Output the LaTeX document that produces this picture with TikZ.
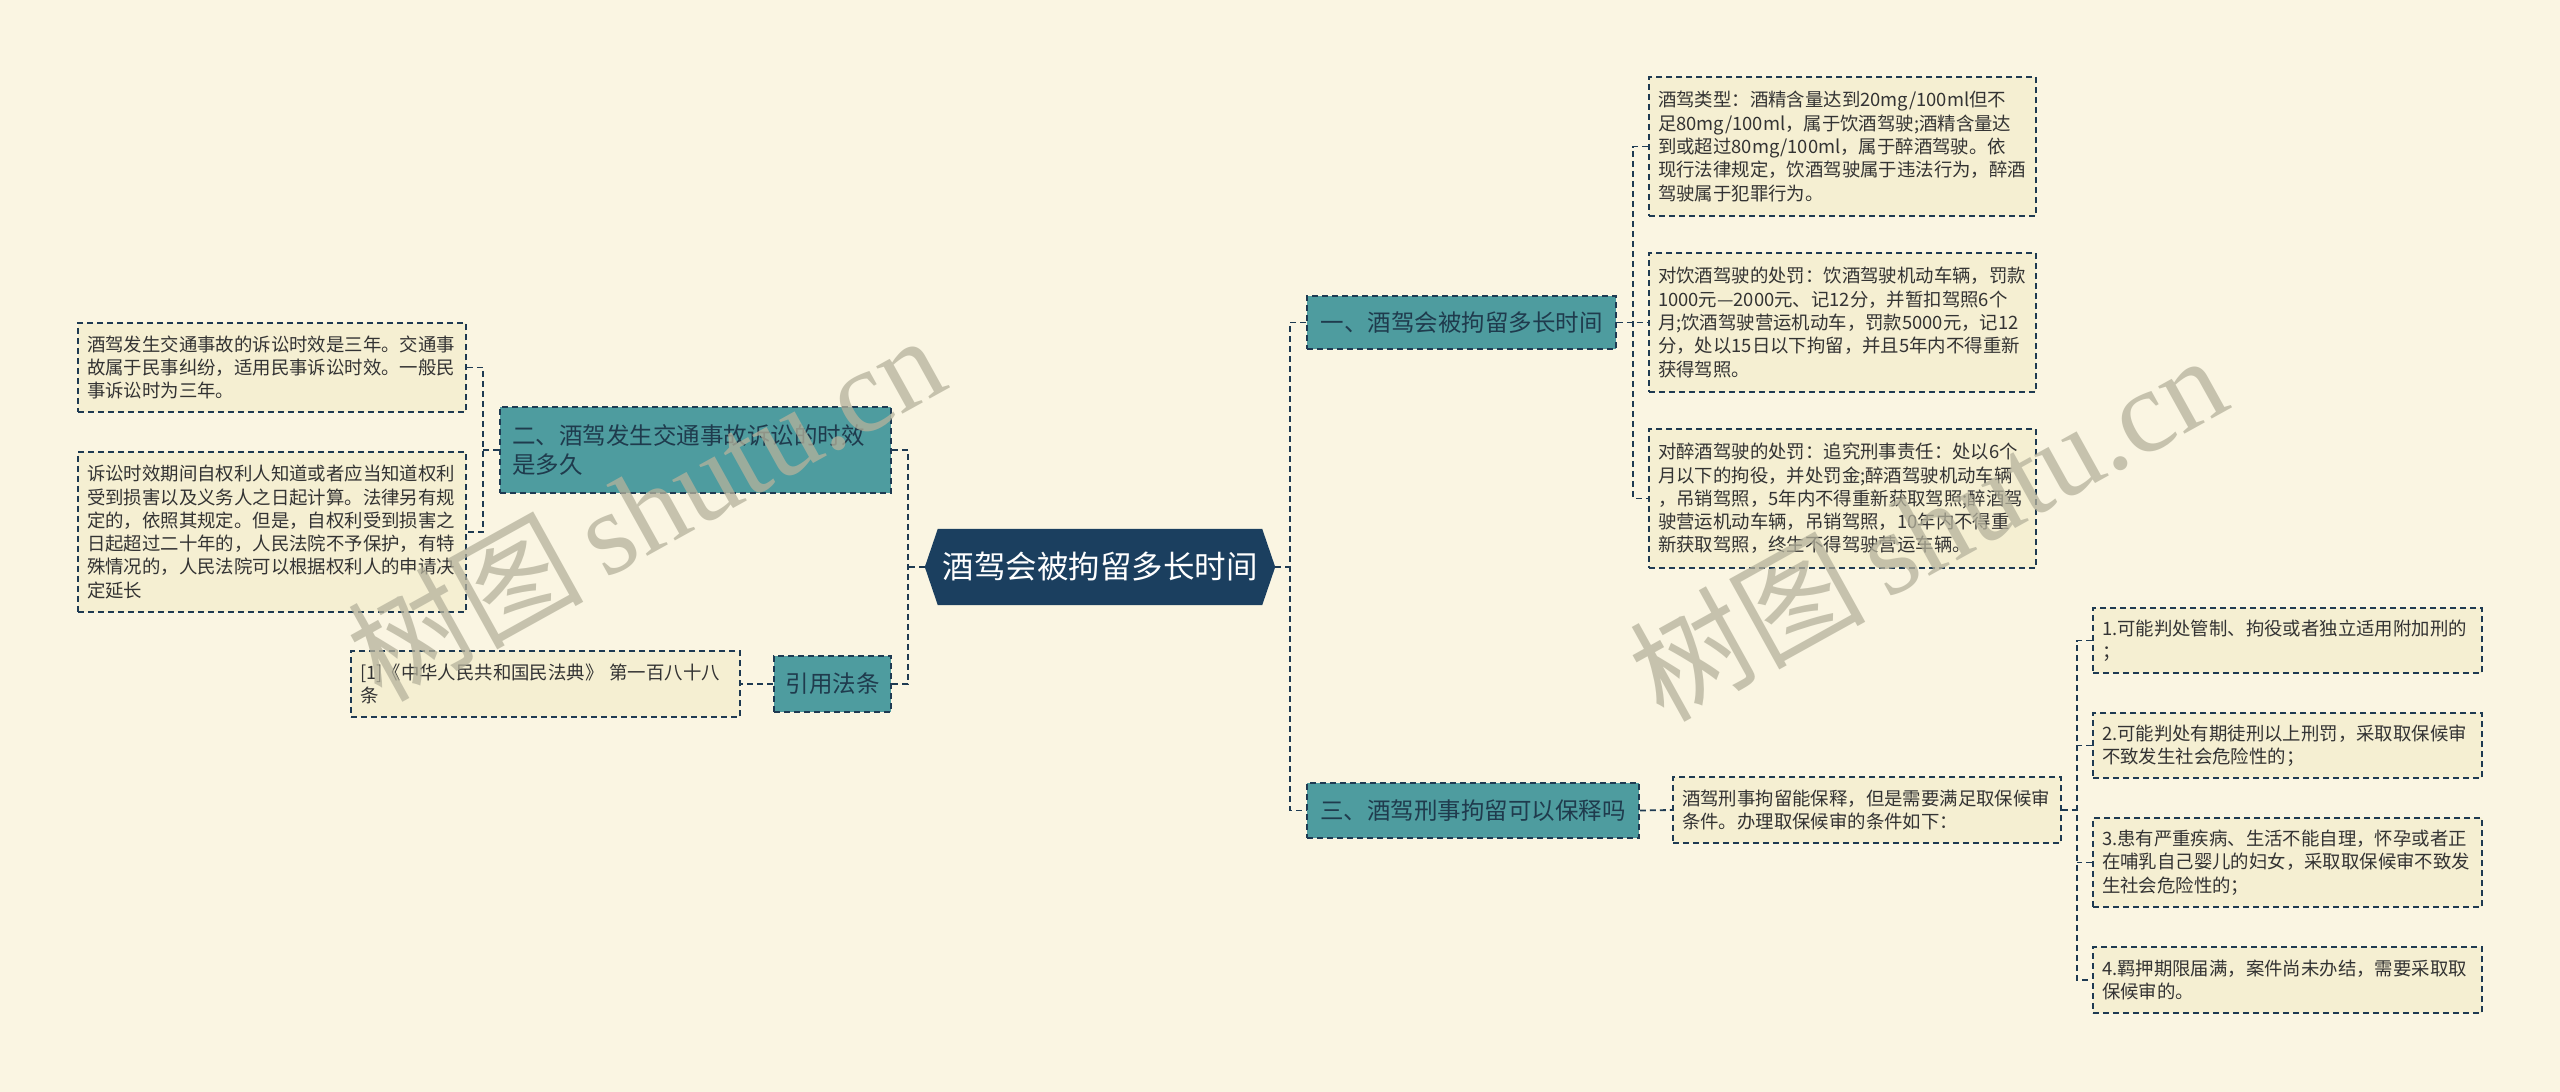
\documentclass[tikz,border=0pt]{standalone}
\usepackage{fontspec}
\setmainfont{Noto Sans CJK SC}
\newfontfamily\wmlatin{Liberation Serif}
\newfontfamily\wmcjk{Noto Sans CJK SC}
\usetikzlibrary{calc}
\definecolor{bgc}{HTML}{FAF5E2}
\definecolor{leaff}{HTML}{F5EFD2}
\definecolor{tealf}{HTML}{4E9C9F}
\definecolor{linec}{HTML}{1E3A52}
\definecolor{rootf}{HTML}{1B3F5F}
\definecolor{txt}{HTML}{333333}
\definecolor{ttxt}{HTML}{1F3B4D}
\definecolor{wmc}{HTML}{B5B29C}
\begin{document}
\begin{tikzpicture}[x=1pt,y=-1pt,
  conn/.style={draw=linec, line width=1.8pt, dash pattern=on 6pt off 4pt},
  leaf/.style={draw=linec, line width=1.8pt, dash pattern=on 6pt off 4pt, fill=leaff,
    inner xsep=9pt, inner ysep=0pt, align=left, text=txt,
    font=\fontsize{18.4pt}{23.3pt}\selectfont},
  lvl/.style={draw=linec, line width=1.8pt, dash pattern=on 6pt off 4pt, fill=tealf,
    inner xsep=12pt, inner ysep=0pt, align=left, text=ttxt,
    font=\fontsize{23.5pt}{29pt}\selectfont},
  wm/.style={text=wmc, text opacity=0.75, rotate=29, inner sep=0pt}
]
\useasboundingbox (0,0) rectangle (2560,1092);
\fill[bgc] (0,0) rectangle (2560,1092);

% trunk / bracket coordinates
\coordinate (tL) at (908,0);
\coordinate (tR) at (1290,0);
\coordinate (bA) at (1633,0);
\coordinate (bL) at (483,0);
\coordinate (bR) at (2077,0);

% root
\node[minimum width=350pt, minimum height=76pt, inner sep=0pt] (root) at (1100,567) {};
\fill[rootf] (root.west) -- ($(root.north west)+(13,0)$) -- ($(root.north east)+(-13,0)$)
  -- (root.east) -- ($(root.south east)+(-13,0)$) -- ($(root.south west)+(13,0)$) -- cycle;
\node[text=white, font=\fontsize{31.5pt}{36pt}\selectfont, inner sep=0pt] (roottext) at (root.center) {酒驾会被拘留多长时间};

% level 1
\node[lvl, minimum width=309pt, minimum height=53pt] (n1) at (1461.5,322.5) {一、酒驾会被拘留多长时间};
\node[lvl, text width=367pt, minimum height=86pt] (n2) at (695.5,450) {二、酒驾发生交通事故诉讼的时效\\是多久};
\node[lvl, minimum width=332pt, minimum height=55pt] (n3) at (1473,810.5) {三、酒驾刑事拘留可以保释吗};
\node[lvl, inner xsep=0pt, minimum width=117pt, minimum height=56pt, align=center] (n4) at (832.5,684) {引用法条};

% right leaves of n1
\node[leaf, text width=369pt, minimum height=139pt] (lA) at (1842.5,146.5) {酒驾类型：酒精含量达到20mg/100ml但不\\足80mg/100ml，属于饮酒驾驶;酒精含量达\\到或超过80mg/100ml，属于醉酒驾驶。依\\现行法律规定，饮酒驾驶属于违法行为，醉酒\\驾驶属于犯罪行为。};
\node[leaf, text width=369pt, minimum height=139pt] (lB) at (1842.5,322.5) {对饮酒驾驶的处罚：饮酒驾驶机动车辆，罚款\\1000元—2000元、记12分，并暂扣驾照6个\\月;饮酒驾驶营运机动车，罚款5000元，记12\\分，处以15日以下拘留，并且5年内不得重新\\获得驾照。};
\node[leaf, text width=369pt, minimum height=139pt] (lC) at (1842.5,498.5) {对醉酒驾驶的处罚：追究刑事责任：处以6个\\月以下的拘役，并处罚金;醉酒驾驶机动车辆\\，吊销驾照，5年内不得重新获取驾照;醉酒驾\\驶营运机动车辆，吊销驾照，10年内不得重\\新获取驾照，终生不得驾驶营运车辆。};

% left leaves of n2
\node[leaf, text width=370pt, minimum height=89pt] (lL1) at (272,367.5) {酒驾发生交通事故的诉讼时效是三年。交通事\\故属于民事纠纷，适用民事诉讼时效。一般民\\事诉讼时为三年。};
\node[leaf, text width=370pt, minimum height=160pt] (lL2) at (272,532) {诉讼时效期间自权利人知道或者应当知道权利\\受到损害以及义务人之日起计算。法律另有规\\定的，依照其规定。但是，自权利受到损害之\\日起超过二十年的，人民法院不予保护，有特\\殊情况的，人民法院可以根据权利人的申请决\\定延长};

% citation
\node[leaf, text width=371pt, minimum height=66pt] (lCite) at (545.5,684) {[1]《中华人民共和国民法典》 第一百八十八\\条};

% bail
\node[leaf, text width=370pt, minimum height=66pt] (lBail) at (1867,810) {酒驾刑事拘留能保释，但是需要满足取保候审\\条件。办理取保候审的条件如下：};

\node[leaf, text width=371pt, minimum height=65pt] (r1) at (2287.5,640.5) {1.可能判处管制、拘役或者独立适用附加刑的\\；};
\node[leaf, text width=371pt, minimum height=65pt] (r2) at (2287.5,745.5) {2.可能判处有期徒刑以上刑罚，采取取保候审\\不致发生社会危险性的；};
\node[leaf, text width=371pt, minimum height=89pt] (r3) at (2287.5,862.5) {3.患有严重疾病、生活不能自理，怀孕或者正\\在哺乳自己婴儿的妇女，采取取保候审不致发\\生社会危险性的；};
\node[leaf, text width=371pt, minimum height=66pt] (r4) at (2287.5,980) {4.羁押期限届满，案件尚未办结，需要采取取\\保候审的。};

% connectors
\draw[conn] (root.west) -- (root.west -| tL);
\draw[conn] (n2.east) -- (n2.east -| tL) |- (n4.east);
\draw[conn] (root.east) -- (root.east -| tR);
\draw[conn] (n1.west) -- (n1.west -| tR) |- (n3.west);
\draw[conn] (n1.east) -- (lB.west);
\draw[conn] (lA.west) -- (lA.west -| bA) |- (lC.west);
\draw[conn] (n2.west) -- (n2.west -| bL);
\draw[conn] (lL1.east) -- (lL1.east -| bL) |- (lL2.east);
\draw[conn] (n4.west) -- (lCite.east);
\draw[conn] (n3.east) -- (lBail.west);
\draw[conn] (lBail.east) -- (lBail.east -| bR);
\draw[conn] (r1.west) -- (r1.west -| bR) |- (r4.west);
\draw[conn] (r2.west) -- (r2.west -| bR);
\draw[conn] (r3.west) -- (r3.west -| bR);

% watermarks
\node[wm] (wm1) at (645,506) {\fontsize{118pt}{120pt}\selectfont\wmcjk 树图\hspace{20pt}\wmlatin shutu.cn};
\node[wm] (wm2) at (1927,526) {\fontsize{118pt}{120pt}\selectfont\wmcjk 树图\hspace{20pt}\wmlatin shutu.cn};
\end{tikzpicture}
\end{document}
